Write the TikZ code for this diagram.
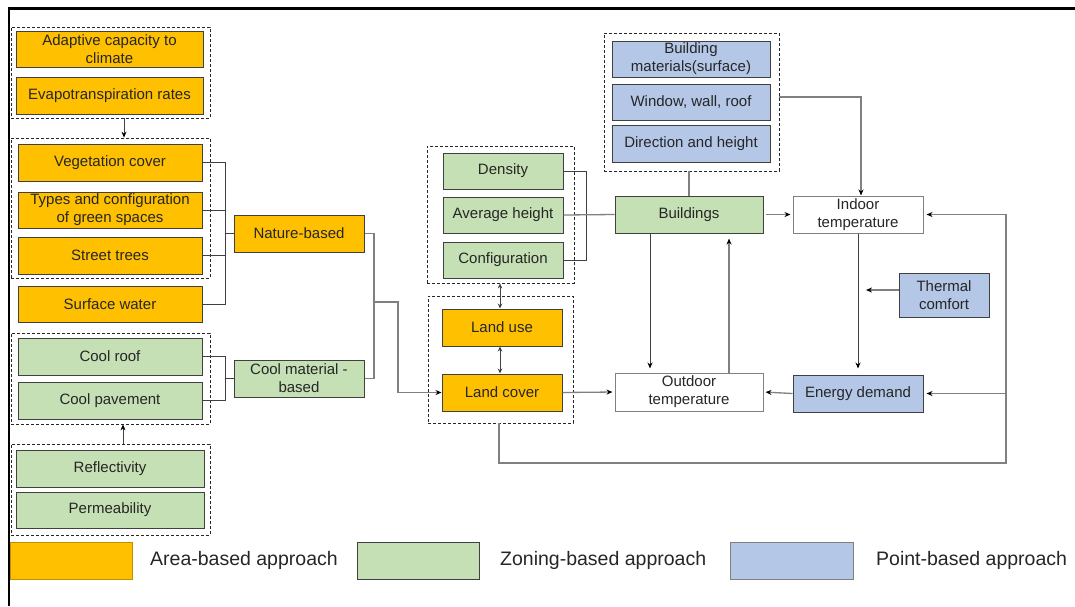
\documentclass[tikz,border=0pt]{standalone}
\usepackage{fontspec}
\setmainfont{Liberation Sans}
\usetikzlibrary{arrows.meta,calc}
\definecolor{orng}{HTML}{FFC000}
\definecolor{grn}{HTML}{C5E0B4}
\definecolor{blu}{HTML}{B4C7E7}
\definecolor{txt}{HTML}{262626}
\definecolor{edge}{HTML}{404040}
\definecolor{lgray}{HTML}{808080}
\tikzset{
 base/.style={draw=edge, line width=1pt, text=txt, inner sep=0pt, align=center,
   font=\fontsize{15}{18}\selectfont, minimum height=37pt},
 abox/.style={base, fill=orng},
 zbox/.style={base, fill=grn},
 pbox/.style={base, fill=blu},
 wbox/.style={base, fill=white, draw=lgray},
 grp/.style={draw=black!85, dash pattern=on 3pt off 2pt, line width=0.8pt, inner sep=0pt},
 conn/.style={draw=edge, line width=0.9pt},
 conng/.style={draw=lgray, line width=1.3pt},
 arrowed/.style={-{Stealth[length=6pt,width=5pt,color=black]}},
 dbl/.style={{Stealth[length=5pt,width=4.5pt]}-{Stealth[length=5pt,width=4.5pt]}},
 legbox/.style={line width=1pt, minimum width=122pt, minimum height=37pt, inner sep=0pt},
 legtxt/.style={anchor=west, text=txt, inner sep=0pt, font=\fontsize{19.5}{22}\selectfont},
}
\begin{document}
\begin{tikzpicture}[x=1pt,y=-1pt]
\useasboundingbox (0,0) rectangle (1075,606);
% frame
\draw[line width=2.5pt] (9,606) -- (9,8.5) -- (1075,8.5);

% left groups
\node[grp, minimum width=199pt, minimum height=91pt] (d1) at (110.5,72.5) {};
\node[grp, minimum width=199pt, minimum height=140pt] (d2) at (110.5,208) {};
\node[grp, minimum width=199pt, minimum height=91pt] (d3) at (110.5,378.5) {};
\node[grp, minimum width=199pt, minimum height=91pt] (d4) at (110.5,489.5) {};

\node[abox, minimum width=187pt, minimum height=36pt] (adapt) at (109.5,49) {Adaptive capacity to\\climate};
\node[abox, minimum width=187pt] (evap) at (109.5,95.5) {Evapotranspiration rates};
\node[abox, minimum width=184pt] (veg) at (110,162.5) {Vegetation cover};
\node[abox, minimum width=184pt, minimum height=36pt] (types) at (110,210) {Types and configuration\\of green spaces};
\node[abox, minimum width=184pt] (street) at (110,255.5) {Street trees};
\node[abox, minimum width=184pt, minimum height=36pt] (surf) at (110,304) {Surface water};
\node[zbox, minimum width=184pt] (croof) at (110,356.5) {Cool roof};
\node[zbox, minimum width=184pt] (cpave) at (110,400.5) {Cool pavement};
\node[zbox, minimum width=188pt] (refl) at (110,468.5) {Reflectivity};
\node[zbox, minimum width=188pt, minimum height=36pt] (perm) at (110,510) {Permeability};

\draw[conn, arrowed] ([xshift=13.5pt]d1.south) -- ([xshift=13.5pt]d2.north);
\draw[conn, arrowed] ([xshift=12.5pt]d4.north) -- ([xshift=12.5pt]d3.south);

% nature / cool material
\node[abox, minimum width=130pt] (nature) at (299,233.5) {Nature-based};
\node[zbox, minimum width=130pt] (coolmat) at (299,378.5) {Cool material -\\based};

\coordinate (j1) at (225,233.5);
\coordinate (j2) at (225,378.5);
\coordinate (j3) at (374,302);
\coordinate (j4) at (398,302);
\draw[conn] (veg.east) -| (j1);
\draw[conn] (types.east) -| (j1);
\draw[conn] (street.east) -| (j1);
\draw[conn] (surf.east) -| (j1);
\draw[conn] (j1) -- (nature.west);
\draw[conn] (croof.east) -| (j2);
\draw[conn] (cpave.east) -| (j2);
\draw[conn] (j2) -- (coolmat.west);
\draw[conng] (nature.east) -| (j3);
\draw[conng] (coolmat.east) -| (j3);

% middle groups
\node[grp, minimum width=147pt, minimum height=137pt] (dg) at (500.5,214.5) {};
\node[grp, minimum width=145pt, minimum height=127pt] (dl) at (500.5,359.5) {};
\node[zbox, minimum width=120pt, minimum height=36pt] (dens) at (503,171) {Density};
\node[zbox, minimum width=120pt, minimum height=36pt] (avgh) at (503,215) {Average height};
\node[zbox, minimum width=120pt, minimum height=36pt] (config) at (503,260) {Configuration};
\node[abox, minimum width=120pt] (luse) at (502,327.5) {Land use};
\node[abox, minimum width=120pt] (lcover) at (502,392.5) {Land cover};

\draw[conng, arrowed] (j3) -- (j4) |- (lcover.west);
\draw[conn, dbl] (dg.south -| 500,0) -- (luse.north -| 500,0);
\draw[conn, dbl] (luse.south -| 500,0) -- (lcover.north -| 500,0);

% right cluster
\node[grp, minimum width=175pt, minimum height=138pt] (db) at (691.5,102) {};
\node[pbox, minimum width=158pt, minimum height=36pt] (bmat) at (691,59) {Building\\materials(surface)};
\node[pbox, minimum width=158pt, minimum height=36pt] (wwr) at (691,102) {Window, wall, roof};
\node[pbox, minimum width=158pt] (dir) at (691,143.5) {Direction and height};

\node[zbox, minimum width=148pt] (bld) at (689,214.5) {Buildings};
\node[wbox, minimum width=130pt] (indoor) at (858,214.5) {Indoor\\temperature};
\node[wbox, minimum width=148pt, minimum height=38pt] (outdoor) at (689,392) {Outdoor\\temperature};
\node[pbox, minimum width=130pt] (energy) at (858,393.5) {Energy demand};
\node[pbox, minimum width=90pt, minimum height=44pt] (thermal) at (944,295) {Thermal\\comfort};
\coordinate (tc) at (866,290);
\coordinate (fbc) at (1006,463);

\coordinate (j5) at (586,215);
\draw[conn] (dens.east) -| (j5);
\draw[conn] (config.east) -| (j5);
\draw[conng] (avgh.east) -- (bld.west);

\draw[conng] (bld.north) -- (bld.north |- db.south);
\draw[conng, arrowed] ([yshift=5pt]db.east) -| ([xshift=3pt]indoor.north);
\draw[conng, arrowed, shorten <=2pt, shorten >=2pt] (bld.east) -- (indoor.west);
\draw[conn, arrowed, shorten >=4pt] ([xshift=-39pt]bld.south) -- ([xshift=-39pt]outdoor.north);
\draw[conng, arrowed, shorten >=5pt] ([xshift=40pt]outdoor.north) -- ([xshift=40pt]bld.south);
\draw[conn, arrowed, shorten >=6pt] (indoor.south) -- (energy.north);
\draw[conng, arrowed] (thermal.west |- tc) -- (tc);
\draw[conng, arrowed, shorten >=2pt] (energy.west) -- (outdoor.east);
\draw[conng, arrowed, shorten >=2pt] (lcover.east) -- (outdoor.west);
\draw[conng, arrowed, shorten >=3pt] ([xshift=-1.5pt]dl.south) |- (fbc) |- (indoor.east);
\draw[conng, arrowed, shorten >=3pt] (fbc |- energy.east) -- (energy.east);

% legend
\node[legbox, fill=orng, draw=orng!75!black] (l1) at (71,560.5) {};
\node[legtxt] (t1) at (150,560) {Area-based approach};
\node[legbox, fill=grn, draw=edge] (l2) at (418,560.5) {};
\node[legtxt] (t2) at (500,560) {Zoning-based approach};
\node[legbox, fill=blu, draw=lgray, minimum width=123pt] (l3) at (792,560.5) {};
\node[legtxt] (t3) at (876,560) {Point-based approach};
\end{tikzpicture}
\end{document}
